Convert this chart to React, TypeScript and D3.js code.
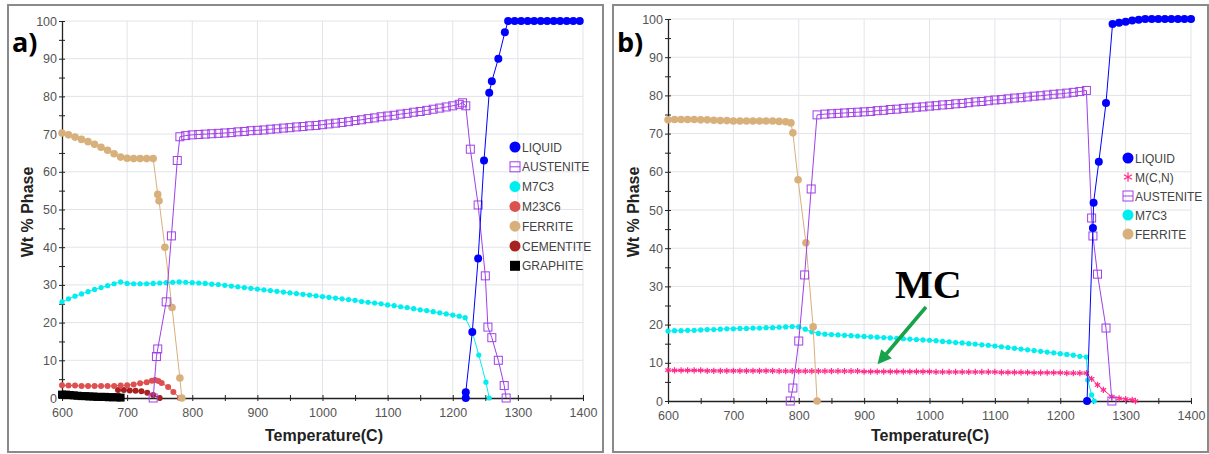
import React, { useEffect, useRef } from "react";
import * as d3 from "d3";

// [temperature (C), wt % phase]

// panel a)
const liquidA = [[1220,0],[1220,1.5],[1230,17.5],[1239,37],[1248,63],[1256,81],[1260,84],[1270,90],[1280,97],[1285,100],[1295,100],[1305,100],[1315,100],[1325,100],[1335,100],[1345,100],[1355,100],[1365,100],[1375,100],[1385,100],[1395,100]];
const austeniteA = [[740,0],[745,11],[747,13],[760,25.5],[768,43],[777,63],[781,69.3],[790,69.6],[800,69.8],[810,69.9],[820,70],[830,70.1],[840,70.2],[850,70.3],[860,70.4],[870,70.6],[880,70.7],[890,70.9],[900,71],[910,71.1],[920,71.3],[930,71.4],[940,71.6],[950,71.7],[960,71.9],[970,72],[980,72.2],[990,72.3],[1000,72.5],[1010,72.7],[1020,72.9],[1030,73.1],[1040,73.3],[1050,73.6],[1060,73.8],[1070,74.1],[1080,74.3],[1090,74.6],[1100,74.8],[1110,75],[1120,75.3],[1130,75.5],[1140,75.8],[1150,76],[1160,76.3],[1170,76.6],[1180,76.9],[1190,77.2],[1200,77.5],[1210,77.9],[1215,78.3],[1220,77.5],[1227,66],[1239,51.2],[1250,32.4],[1254,18.8],[1260,16],[1270,10],[1279,3.3],[1282,0]];
const m7c3A = [[600,25.5],[610,26.3],[620,27],[630,27.6],[640,28.2],[650,28.8],[660,29.3],[670,29.8],[680,30.3],[690,30.8],[700,30.4],[710,30.3],[720,30.3],[730,30.3],[740,30.4],[750,30.5],[760,30.6],[770,30.7],[780,30.8],[790,30.7],[800,30.6],[810,30.5],[820,30.4],[830,30.2],[840,30.1],[850,29.9],[860,29.7],[870,29.5],[880,29.3],[890,29.1],[900,28.9],[910,28.7],[920,28.5],[930,28.3],[940,28.1],[950,27.9],[960,27.7],[970,27.5],[980,27.3],[990,27.1],[1000,26.9],[1010,26.7],[1020,26.5],[1030,26.3],[1040,26.1],[1050,25.9],[1060,25.6],[1070,25.4],[1080,25.2],[1090,25],[1100,24.7],[1110,24.5],[1120,24.2],[1130,24],[1140,23.7],[1150,23.4],[1160,23.2],[1170,22.9],[1180,22.6],[1190,22.3],[1200,22],[1210,21.7],[1219,21.3],[1230,17.5],[1240,11.4],[1251,4.2],[1256,0]];
const m23c6A = [[600,3.4],[610,3.3],[620,3.3],[630,3.2],[640,3.2],[650,3.2],[660,3.2],[670,3.2],[680,3.2],[690,3.3],[700,3.4],[710,3.6],[720,3.9],[730,4.2],[738,4.6],[743,4.8],[748,4.5],[753,4],[763,2.9],[771,1.6],[781,0]];
const ferriteA = [[600,70.3],[610,69.8],[620,69.2],[630,68.6],[640,68],[650,67.3],[660,66.5],[670,65.7],[680,64.8],[690,63.9],[700,63.6],[710,63.5],[720,63.5],[730,63.5],[740,63.5],[747,54],[749,52.3],[758,40],[769,24],[781,5.3],[784,0]];
const cementiteA = [[686,2.1],[695,2.1],[704,2],[713,1.9],[722,1.8],[731,1.4],[740,0.8],[750,0]];
const graphiteA = [[600,0.9],[606,0.9],[612,0.8],[618,0.7],[624,0.6],[630,0.5],[636,0.5],[642,0.4],[648,0.4],[654,0.3],[660,0.3],[666,0.3],[672,0.2],[678,0.2],[684,0.2],[690,0.1]];

// panel b)
const liquidB = [[1241,0],[1250,45.3],[1251,51.9],[1259,62.6],[1270,78],[1280,98.7],[1290,99],[1300,99.3],[1310,99.6],[1320,99.8],[1330,100],[1340,100],[1350,100],[1360,100],[1370,100],[1380,100],[1390,100],[1400,100]];
const mcnB = [[600,8.1],[610,8],[620,8],[630,8],[640,8],[650,8],[660,7.9],[670,7.9],[680,7.9],[690,7.9],[700,7.9],[710,7.9],[720,7.9],[730,7.9],[740,7.9],[750,7.9],[760,7.9],[770,7.8],[780,7.8],[790,7.8],[800,7.8],[810,7.8],[820,7.8],[830,7.8],[840,7.8],[850,7.8],[860,7.8],[870,7.8],[880,7.8],[890,7.8],[900,7.7],[910,7.7],[920,7.7],[930,7.7],[940,7.7],[950,7.7],[960,7.7],[970,7.7],[980,7.7],[990,7.7],[1000,7.7],[1010,7.6],[1020,7.6],[1030,7.6],[1040,7.6],[1050,7.6],[1060,7.6],[1070,7.6],[1080,7.6],[1090,7.6],[1100,7.6],[1110,7.5],[1120,7.5],[1130,7.5],[1140,7.5],[1150,7.5],[1160,7.4],[1170,7.4],[1180,7.4],[1190,7.4],[1200,7.4],[1210,7.3],[1220,7.3],[1230,7.3],[1240,7.3],[1248,5.8],[1257,4.2],[1266,2.9],[1279,1.1],[1290,0.7],[1300,0.5],[1310,0.3],[1315,0]];
const austeniteB = [[787,0],[791,3.4],[800,15.7],[809,33],[819,55.5],[828,74.9],[840,75.1],[850,75.2],[860,75.3],[870,75.4],[880,75.5],[890,75.6],[900,75.7],[910,75.8],[920,76],[930,76.1],[940,76.3],[950,76.4],[960,76.6],[970,76.7],[980,76.9],[990,77],[1000,77.2],[1010,77.3],[1020,77.5],[1030,77.6],[1040,77.8],[1050,77.9],[1060,78.1],[1070,78.3],[1080,78.4],[1090,78.6],[1100,78.8],[1110,78.9],[1120,79.1],[1130,79.3],[1140,79.4],[1150,79.6],[1160,79.8],[1170,79.9],[1180,80.1],[1190,80.3],[1200,80.4],[1210,80.6],[1220,80.8],[1230,81],[1240,81.3],[1248,47.9],[1250,43.2],[1257,33.2],[1270,19.1],[1279,0]];
const m7c3B = [[600,18.3],[610,18.4],[620,18.4],[630,18.5],[640,18.5],[650,18.6],[660,18.7],[670,18.7],[680,18.8],[690,18.9],[700,18.9],[710,19],[720,19],[730,19.1],[740,19.1],[750,19.2],[760,19.2],[770,19.3],[780,19.4],[790,19.5],[800,19.4],[810,18.8],[820,18.1],[830,17.7],[840,17.5],[850,17.4],[860,17.3],[870,17.2],[880,17.1],[890,17],[900,16.9],[910,16.8],[920,16.7],[930,16.6],[940,16.5],[950,16.4],[960,16.3],[970,16.2],[980,16.1],[990,16],[1000,15.9],[1010,15.8],[1020,15.6],[1030,15.5],[1040,15.3],[1050,15.2],[1060,15],[1070,14.9],[1080,14.7],[1090,14.6],[1100,14.4],[1110,14.2],[1120,14],[1130,13.8],[1140,13.6],[1150,13.4],[1160,13.2],[1170,13],[1180,12.8],[1190,12.6],[1200,12.4],[1210,12.2],[1220,12],[1230,11.7],[1240,11.5],[1242,5.5],[1248,1.6],[1252,0]];
const ferriteB = [[600,73.6],[610,73.7],[620,73.7],[630,73.7],[640,73.7],[650,73.6],[660,73.6],[670,73.5],[680,73.4],[690,73.4],[700,73.3],[710,73.3],[720,73.3],[730,73.3],[740,73.3],[750,73.3],[760,73.3],[770,73.2],[780,73.1],[788,72.8],[791,70.2],[799,57.9],[811,41.4],[822,19.4],[828,0]];

const xTicks = [600, 700, 800, 900, 1000, 1100, 1200, 1300, 1400];
const yTicks = [0, 10, 20, 30, 40, 50, 60, 70, 80, 90, 100];

const COLORS = {
  liquid: "#0000ff",
  austenite: "#a040e8",
  m7c3: "#00eef0",
  m23c6: "#dd5050",
  ferrite: "#d8b07c",
  cementite: "#a82222",
  graphite: "#000000",
  mcn: "#ff2a8a",
};

const panelA = {
  frame: [8, 5, 595, 447],
  left: 62, right: 583, top: 21, bottom: 398,
  label: "a)", labelX: 12, ytitleX: 27, xtitleX: 324,
  legend: { x: 515, y: 147, step: 19.8 },
  series: [
    { name: "GRAPHITE", data: graphiteA, color: COLORS.graphite, marker: "square", size: 8 },
    { name: "CEMENTITE", data: cementiteA, color: COLORS.cementite, marker: "circle", size: 3 },
    { name: "M23C6", data: m23c6A, color: COLORS.m23c6, marker: "circle", size: 3 },
    { name: "FERRITE", data: ferriteA, color: COLORS.ferrite, marker: "circle", size: 3.8 },
    { name: "M7C3", data: m7c3A, color: COLORS.m7c3, marker: "circle", size: 2.6 },
    { name: "AUSTENITE", data: austeniteA, color: COLORS.austenite, marker: "openSquare", size: 8 },
    { name: "LIQUID", data: liquidA, color: COLORS.liquid, marker: "circle", size: 4 },
  ],
  legendOrder: ["LIQUID", "AUSTENITE", "M7C3", "M23C6", "FERRITE", "CEMENTITE", "GRAPHITE"],
};

const panelB = {
  frame: [613, 5, 595, 447],
  left: 668, right: 1191, top: 19, bottom: 401,
  label: "b)", labelX: 617, ytitleX: 633, xtitleX: 930,
  legend: { x: 1128, y: 158, step: 19 },
  series: [
    { name: "M7C3", data: m7c3B, color: COLORS.m7c3, marker: "circle", size: 2.6 },
    { name: "M(C,N)", data: mcnB, color: COLORS.mcn, marker: "asterisk", size: 3 },
    { name: "FERRITE", data: ferriteB, color: COLORS.ferrite, marker: "circle", size: 3.8 },
    { name: "AUSTENITE", data: austeniteB, color: COLORS.austenite, marker: "openSquare", size: 8 },
    { name: "LIQUID", data: liquidB, color: COLORS.liquid, marker: "circle", size: 4 },
  ],
  legendOrder: ["LIQUID", "M(C,N)", "AUSTENITE", "M7C3", "FERRITE"],
};

const FONT = "'Liberation Sans', Arial, sans-serif";

function drawMarker(g, marker, cx, cy, size, color) {
  if (marker === "circle") {
    g.append("circle").attr("cx", cx).attr("cy", cy).attr("r", size).attr("fill", color);
  } else if (marker === "square") {
    g.append("rect").attr("x", cx - size / 2).attr("y", cy - size / 2)
      .attr("width", size).attr("height", size).attr("fill", color);
  } else if (marker === "openSquare") {
    g.append("rect").attr("x", cx - size / 2).attr("y", cy - size / 2)
      .attr("width", size).attr("height", size)
      .attr("fill", "none").attr("stroke", color).attr("stroke-width", 1);
  } else if (marker === "asterisk") {
    g.append("path")
      .attr("transform", `translate(${cx},${cy})`)
      .attr("d", d3.symbol(d3.symbolAsterisk, size * size * 3)())
      .attr("fill", "none").attr("stroke", color).attr("stroke-width", 1.2);
  }
}

function drawPanel(svg, p) {
  const x = d3.scaleLinear().domain([600, 1400]).range([p.left, p.right]);
  const y = d3.scaleLinear().domain([0, 100]).range([p.bottom, p.top]);
  const g = svg.append("g");

  // frame
  const [fx, fy, fw, fh] = p.frame;
  g.append("rect").attr("x", fx).attr("y", fy).attr("width", fw).attr("height", fh)
    .attr("fill", "#fff").attr("stroke", "#8a8a8a").attr("stroke-width", 2);

  // grid
  g.selectAll(".vg").data(xTicks.slice(1)).enter().append("line")
    .attr("x1", (d) => x(d)).attr("x2", (d) => x(d))
    .attr("y1", y(100)).attr("y2", y(0))
    .attr("stroke", "#e2e4e9").attr("stroke-width", 1);
  g.selectAll(".hg").data(yTicks.slice(1)).enter().append("line")
    .attr("x1", x(600)).attr("x2", x(1400))
    .attr("y1", (d) => y(d)).attr("y2", (d) => y(d))
    .attr("stroke", "#e2e4e9").attr("stroke-width", 1);

  // axes
  const xAxis = g.append("g").attr("transform", `translate(0,${y(0)})`)
    .call(d3.axisBottom(x).tickValues(d3.range(600, 1401, 50)).tickSizeOuter(0)
      .tickFormat((d) => (xTicks.includes(d) ? String(d) : "")));
  xAxis.selectAll("line").attr("y1", -3).attr("y2", 3).attr("stroke", "#222");
  xAxis.selectAll("text").attr("y", 10).attr("fill", "#555")
    .style("font-family", FONT).style("font-size", "12.5px");
  xAxis.select(".domain").attr("stroke", "#222").attr("stroke-width", 1.3);

  const yAxis = g.append("g").attr("transform", `translate(${x(600)},0)`)
    .call(d3.axisLeft(y).tickValues(d3.range(0, 101, 5)).tickSizeOuter(0)
      .tickFormat((d) => (yTicks.includes(d) ? String(d) : "")));
  yAxis.selectAll("line").attr("x1", -3).attr("x2", 3).attr("stroke", "#222");
  yAxis.selectAll("text").attr("x", -5).attr("fill", "#555")
    .style("font-family", FONT).style("font-size", "12.5px");
  yAxis.select(".domain").attr("stroke", "#222").attr("stroke-width", 1.3);

  // titles
  g.append("text").attr("x", p.xtitleX).attr("y", 441).attr("text-anchor", "middle")
    .style("font-family", FONT).style("font-weight", "bold").style("font-size", "16px")
    .attr("fill", "#222").text("Temperature(C)");
  g.append("text").attr("transform", `translate(${p.ytitleX + 6},212) rotate(-90)`)
    .attr("text-anchor", "middle")
    .style("font-family", FONT).style("font-weight", "bold").style("font-size", "16px")
    .attr("fill", "#222").text("Wt % Phase");
  g.append("text").attr("x", p.labelX).attr("y", 52)
    .style("font-family", "'Open Sans', 'Liberation Sans', sans-serif")
    .style("font-weight", "bold").style("font-size", "27px")
    .attr("fill", "#000").text(p.label);

  // series
  const line = d3.line().x((d) => x(d[0])).y((d) => y(d[1]));
  p.series.forEach((s) => {
    const sg = g.append("g");
    sg.append("path").datum(s.data).attr("d", line)
      .attr("fill", "none").attr("stroke", s.color).attr("stroke-width", 1);
    s.data.forEach((d) => drawMarker(sg, s.marker, x(d[0]), y(d[1]), s.size, s.color));
  });

  // legend
  p.legendOrder.forEach((name, i) => {
    const s = p.series.find((t) => t.name === name);
    const ly = p.legend.y + i * p.legend.step;
    const lg = g.append("g");
    if (s.marker === "circle") drawMarker(lg, "circle", p.legend.x, ly, 5.5, s.color);
    else if (s.marker === "square") drawMarker(lg, "square", p.legend.x, ly, 10, s.color);
    else if (s.marker === "openSquare") {
      drawMarker(lg, "openSquare", p.legend.x, ly, 10, s.color);
      lg.append("line").attr("x1", p.legend.x - 5).attr("x2", p.legend.x + 5)
        .attr("y1", ly).attr("y2", ly).attr("stroke", s.color);
    } else drawMarker(lg, "asterisk", p.legend.x, ly, 4.5, s.color);
    lg.append("text").attr("x", p.legend.x + 7).attr("y", ly + 4.5)
      .style("font-family", FONT).style("font-size", "12px")
      .attr("fill", "#444").text(name);
  });
}

const App = () => {
  const ref = useRef(null);

  useEffect(() => {
    const svg = d3.select(ref.current);
    svg.selectAll("*").remove();
    svg.append("rect").attr("width", 1209).attr("height", 454).attr("fill", "#fff");

    drawPanel(svg, panelA);
    drawPanel(svg, panelB);

    // MC annotation on panel b
    svg.append("defs").append("marker")
      .attr("id", "arrowhead").attr("viewBox", "0 0 10 10")
      .attr("refX", 5).attr("refY", 5)
      .attr("markerWidth", 4).attr("markerHeight", 4)
      .attr("orient", "auto")
      .append("path").attr("d", "M0,0 L10,5 L0,10 z").attr("fill", "#17a34a");
    svg.append("line")
      .attr("x1", 926).attr("y1", 307).attr("x2", 882).attr("y2", 359)
      .attr("stroke", "#17a34a").attr("stroke-width", 3.5)
      .attr("marker-end", "url(#arrowhead)");
    svg.append("text").attr("x", 895).attr("y", 298)
      .style("font-family", "'Liberation Serif', 'Times New Roman', serif")
      .style("font-weight", "bold").style("font-size", "40px")
      .attr("fill", "#000").text("MC");
  }, []);

  return (
    <svg ref={ref} width={1209} height={454}
      style={{ position: "absolute", left: 0, top: 0, display: "block" }} />
  );
};

export default App;
